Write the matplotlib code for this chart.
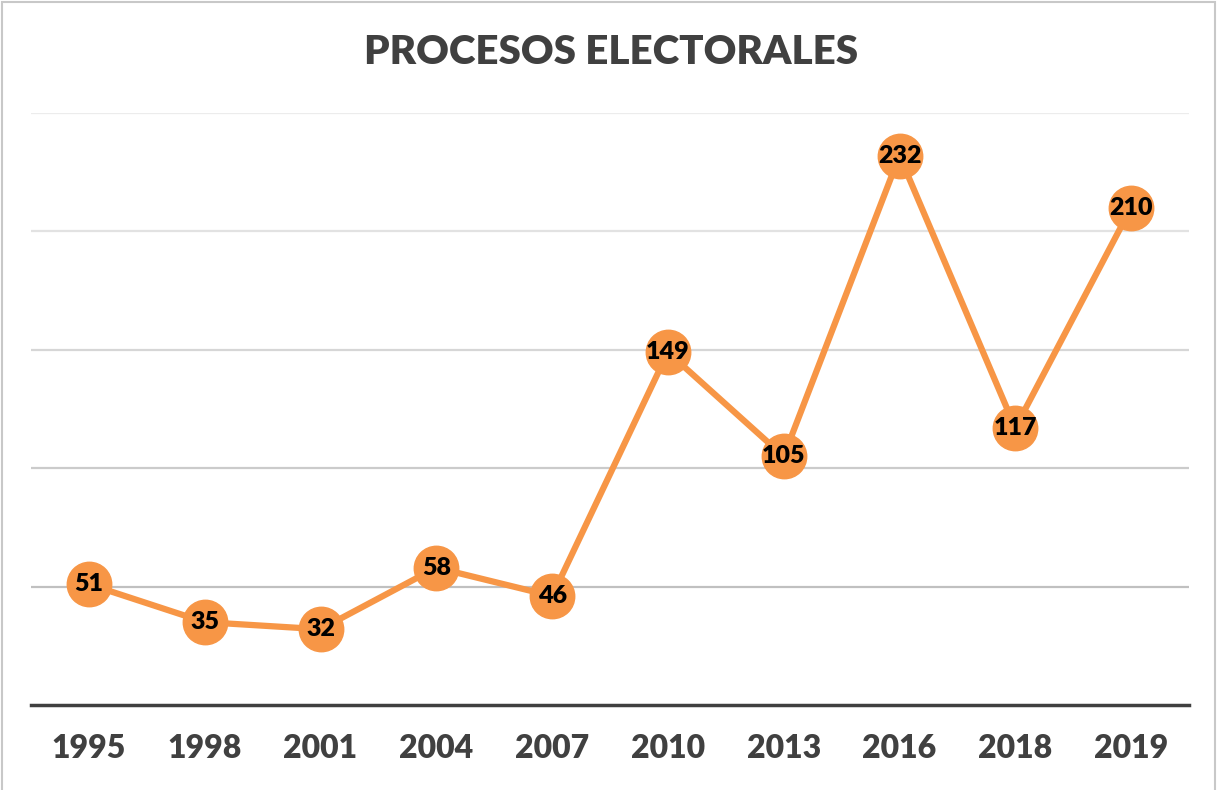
import matplotlib
matplotlib.use("Agg")
import matplotlib.pyplot as plt
from matplotlib.patches import Rectangle

years = ["1995", "1998", "2001", "2004", "2007", "2010", "2013", "2016", "2018", "2019"]
values = [51, 35, 32, 58, 46, 149, 105, 232, 117, 210]
grid_levels = [50, 100, 150, 200, 250]
title = "PROCESOS ELECTORALES"

plt.rcParams['font.family'] = ['Lato', 'DejaVu Sans']

fig = plt.figure(figsize=(12.18, 7.90), dpi=100)
ax = fig.add_axes([31/1218, 1-705/790, (1189-31)/1218, (705-113)/790])

grid_colors = ["#c0c0c0", "#cbcbcb", "#d6d6d6", "#e2e2e2", "#ececec"]
for lvl, c in zip(grid_levels, grid_colors):
    ax.axhline(lvl, color=c, lw=1.6, zorder=1)

x = list(range(len(years)))
ax.plot(x, values, color="#F79646", lw=4.5, marker="o", markersize=32,
        markerfacecolor="#F79646", markeredgecolor="#F79646", zorder=3,
        solid_capstyle="round")
for xi, v in zip(x, values):
    ax.text(xi, v, str(v), ha="center", va="center", fontsize=18,
            fontweight="heavy", color="black", zorder=4)

ax.set_xlim(-0.5, len(years) - 0.5)
ax.set_ylim(0, 250)
ax.set_xticks(x)
ax.set_xticklabels(years, fontsize=23, fontweight="heavy", color="#404040")
ax.tick_params(axis="x", length=0, pad=21)
ax.set_yticks([])
for s in ["top", "right", "left"]:
    ax.spines[s].set_visible(False)
ax.spines["bottom"].set_color("#404040")
ax.spines["bottom"].set_linewidth(2.5)
ax.spines["bottom"].set_zorder(5)

fig.text(0.5015, 1-53/790, title, ha="center", va="center", fontsize=29,
         fontweight="heavy", color="#404040")

fig.patches.append(Rectangle((2/1218, -0.05), 1213/1218, 1.05 - 2/790,
                             transform=fig.transFigure, fill=False,
                             edgecolor="#c8c8c8", lw=1.5))

fig.savefig("out.png", dpi=100)
